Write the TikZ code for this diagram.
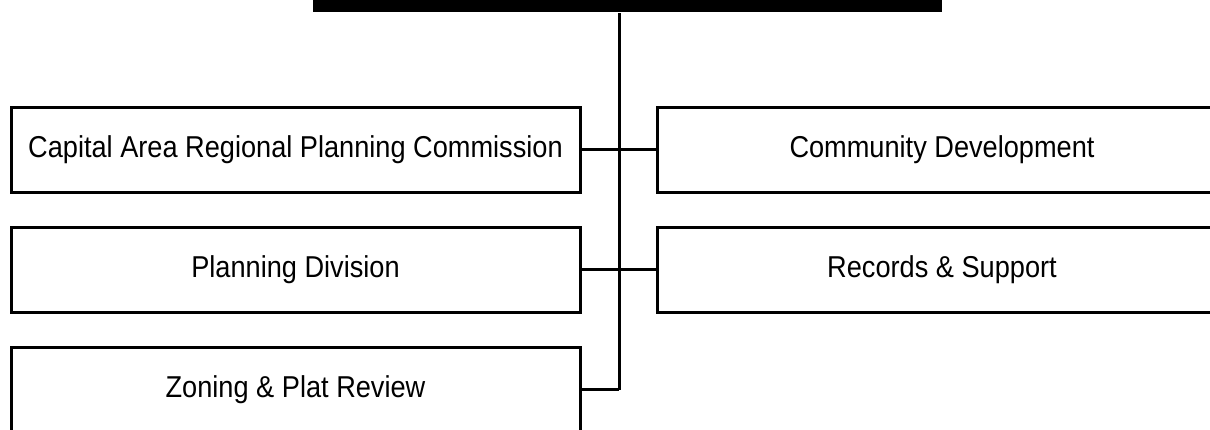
\documentclass[tikz,border=0pt]{standalone}
\usepackage{fontspec}
\setmainfont{Liberation Sans}[FakeStretch=0.9]
\usepackage{tikz}
\usetikzlibrary{shapes}

\tikzset{unit/.style={draw,line width=3bp,minimum width=569bp,minimum height=85bp,inner sep=0pt,font=\fontsize{30.3}{36}\selectfont}}

\begin{document}
\begin{tikzpicture}[line width=3bp]
\useasboundingbox (0bp,0bp) rectangle (1210bp,-430bp);
\clip (0bp,0bp) rectangle (1210bp,-430bp);
\node (head) at (627.5bp,14bp)[fill=black,minimum width=629bp,minimum height=51bp,inner sep=0pt] {};
\node (carpc) at (295.5bp,-149.5bp)[unit] {Capital Area Regional Planning Commission};
\node (plan) at (295.5bp,-269.5bp)[unit] {Planning Division};
\node (zone) at (295.5bp,-389.5bp)[unit] {Zoning \& Plat Review};
\node (comdev) at (942bp,-149.5bp)[unit] {Community Development};
\node (recs) at (942bp,-269.5bp)[unit] {Records \& Support};
\coordinate (trunk) at (619bp,-389.5bp);
\draw (head.south -| trunk) -- (trunk);
\draw (carpc.east) -- (comdev.west);
\draw (plan.east) -- (recs.west);
\draw (zone.east) -- (trunk);
\end{tikzpicture}
\end{document}
